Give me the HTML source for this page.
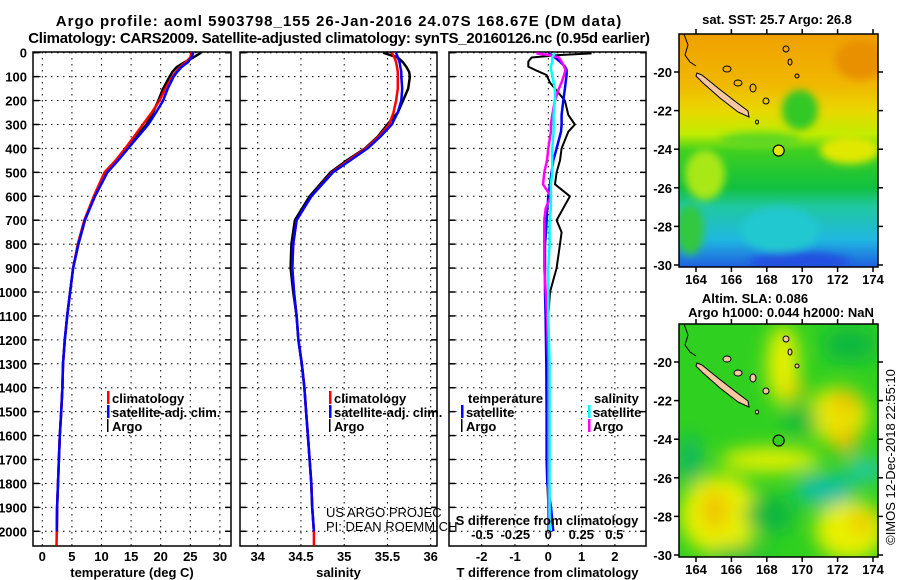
<!DOCTYPE html>
<html><head><meta charset="utf-8">
<style>
html,body{margin:0;padding:0;background:#fff;}
svg{display:block;}
text{font-family:"Liberation Sans",sans-serif;fill:#000;}
.b{font-weight:bold;}
</style></head>
<body>
<svg id="chart" width="900" height="580" viewBox="0 0 900 580" xmlns="http://www.w3.org/2000/svg">
<defs>
<clipPath id="clipTop"><rect x="679" y="34" width="199" height="233"/></clipPath>
<clipPath id="clipBot"><rect x="679" y="324" width="199" height="233"/></clipPath>
<filter id="blur8" x="-50%" y="-50%" width="200%" height="200%"><feGaussianBlur stdDeviation="9"/></filter>
<filter id="blur4" x="-50%" y="-50%" width="200%" height="200%"><feGaussianBlur stdDeviation="4"/></filter>
<linearGradient id="sstGrad" x1="0" y1="0" x2="0" y2="1">
<stop offset="0" stop-color="#f0a000"/>
<stop offset="0.22" stop-color="#f0b800"/>
<stop offset="0.33" stop-color="#e8d800"/>
<stop offset="0.43" stop-color="#c0ec00"/>
<stop offset="0.50" stop-color="#40d020"/>
<stop offset="0.66" stop-color="#10c040"/>
<stop offset="0.74" stop-color="#20c8a0"/>
<stop offset="0.88" stop-color="#20b8e0"/>
<stop offset="1" stop-color="#2060e0"/>
</linearGradient>
</defs>
<text class="b" x="339" y="26" font-size="15" text-anchor="middle" letter-spacing="1">Argo profile: aoml 5903798_155 26-Jan-2016 24.07S 168.67E (DM data)</text>
<text class="b" x="339" y="43" font-size="15" text-anchor="middle" letter-spacing="-0.25">Climatology: CARS2009. Satellite-adjusted climatology: synTS_20160126.nc (0.95d earlier)</text>
<g id="panels"></g>
<g id="maps"></g>
</svg>
<script>
// ---------- data ----------
const depthsProfile = [0,20,40,60,80,100,150,200,250,300,350,400,450,500,600,700,800,900,1000,1100,1200,1300,1400,1500,1600,1700,1800,1900,2000];
const depthsClim = [0,20,40,60,80,100,150,200,250,300,350,400,450,500,600,700,800,900,1000,1100,1200,1300,1400,1500,1600,1700,1800,1900,2000,2060];
const tempArgo = [26.8,25.5,24,22.7,22,21.5,20.4,19.6,18.7,17.6,15.9,14.3,12.6,10.8,8.8,7.2,6.1,5.2,4.7,4.2,3.8,3.5,3.4,3.2,2.95,2.8,2.65,2.5,2.45];
const tempClim = [25.2,25.0,24.2,23.3,22.6,22,20.8,19.8,18.5,17,15.5,14,12.4,10.5,8.7,7.1,6.0,5.2,4.7,4.2,3.8,3.5,3.4,3.2,2.95,2.8,2.65,2.5,2.45,2.4];
const tempSat = [25.5,25.2,24.6,23.5,22.8,22.2,21.2,20.4,19.2,17.9,16.2,14.5,12.8,11.0,8.9,7.2,6.1,5.2,4.7,4.2,3.8,3.5,3.4,3.2,2.95,2.8,2.65,2.5,2.45];
const salArgo = [35.45,35.62,35.68,35.72,35.75,35.76,35.74,35.68,35.62,35.5,35.39,35.24,35.03,34.84,34.6,34.43,34.39,34.38,34.41,34.45,34.47,34.51,34.54,34.56,34.58,34.6,34.62,34.63,34.65];
const salClim = [35.55,35.58,35.6,35.61,35.62,35.62,35.62,35.6,35.57,35.52,35.4,35.25,35.05,34.86,34.62,34.45,34.41,34.4,34.42,34.45,34.47,34.51,34.54,34.56,34.58,34.6,34.62,34.63,34.65,34.65];
const salSat = [35.6,35.62,35.64,35.65,35.66,35.66,35.67,35.66,35.62,35.55,35.42,35.27,35.07,34.87,34.62,34.45,34.41,34.4,34.42,34.45,34.47,34.51,34.54,34.56,34.58,34.6,34.62,34.63,34.65];
const depthsDiff = [3,10,20,37,58,72,93,125,150,200,260,300,330,400,450,500,550,600,650,700,750,800,900,1000,1100,1300,1500,1700,1800,1900,2000];
const tDiffArgo = [1.3,0.3,-0.5,-0.6,-0.6,-0.4,-0.05,0.05,0.2,0.5,0.6,0.8,0.6,0.4,0.35,0.25,0.2,0.65,0.45,0.25,0.4,0.35,0.25,0.05,0.0,-0.05,-0.05,-0.05,-0.03,0.0,0.05];
const tDiffSat = [0,0.1,0.2,0.35,0.5,0.55,0.55,0.52,0.5,0.45,0.4,0.4,0.38,0.25,0.15,0.1,0.05,0,-0.03,-0.05,-0.07,-0.1,-0.1,-0.1,-0.08,-0.06,-0.05,-0.05,-0.03,0.08,0.15];
const sDiffArgo = [-0.09,0.01,0.08,0.1,0.12,0.13,0.12,0.1,0.08,0.05,0.03,0.02,0.02,0.0,-0.01,-0.03,-0.04,0.02,-0.02,-0.03,-0.03,-0.03,-0.03,-0.02,-0.01,0,0,0,0,0,0];
const sDiffSat = [0.05,0.04,0.03,0.03,0.02,0.02,0.03,0.04,0.05,0.05,0.04,0.04,0.04,0.03,0.03,0.03,0.02,0.02,0.02,0.01,0.01,0.01,0.0,0.0,0.0,0.01,0.01,0.01,0.01,0.01,0.01];
const depthTicks = [0,100,200,300,400,500,600,700,800,900,1000,1100,1200,1300,1400,1500,1600,1700,1800,1900,2000];
const tempTicks = [0,5,10,15,20,25,30];
const salTicks = [34,34.5,35,35.5,36];
const tDiffTicks = [-2,-1,0,1,2];
const sDiffTicks = [-0.5,-0.25,0,0.25,0.5];
const sDiffTickLabels = ["-0.5","-0.25","0","0.25","0.5"];
const latTicks = [-20,-22,-24,-26,-28,-30];
const lonTicks = [164,166,168,170,172,174];

// ---------- scales ----------
const NS = "http://www.w3.org/2000/svg";
const yD = d => 52.7 + d * 0.2393;
const xT = t => 42.3 + t * 5.92;
const xS = s => 257.7 + (s - 34) * 86.5;
const xTd = v => 548.3 + v * 33.3;
const xSd = v => 548.3 + v * 132;
const lonX = lon => 696 + (lon - 164) * 17.7;
const latY = lat => 72 + (-20 - lat) * 19.3;

function mk(tag, attrs, parent){
  const e = document.createElementNS(NS, tag);
  for (const k in attrs) e.setAttribute(k, attrs[k]);
  parent.appendChild(e);
  return e;
}
function txt(parent, x, y, s, size, anchor, bold){
  const t = mk('text', {x:x, y:y, 'font-size':size, 'text-anchor':anchor||'start'}, parent);
  if (bold) t.setAttribute('class','b');
  t.textContent = s;
  return t;
}

const panelsG = document.getElementById('panels');
const panels = [
  {name:'temperature', x0:33, x1:231, ticks:tempTicks, sx:xT, title:'temperature (deg C)', fmt:v=>String(v)},
  {name:'salinity', x0:240, x1:437, ticks:salTicks, sx:xS, title:'salinity', fmt:v=>String(v)},
  {name:'difference', x0:449, x1:646, ticks:tDiffTicks, sx:xTd, title:'T difference from climatology', fmt:v=>String(v)}
];
const PY0 = 52, PY1 = 546;

panels.forEach(p => {
  const g = mk('g', {}, panelsG);
  
  
  p.ticks.forEach(v => {
    const gl = mk('line', {x1:p.sx(v), x2:p.sx(v), y1:PY0, y2:PY1, stroke:'#000', 'stroke-width':1, 'stroke-dasharray':'1.5 4.5'}, g);
    
    
    const lb = txt(g, p.sx(v), 561, p.fmt(v), 13, 'middle', true);
    
    
  });
  depthTicks.forEach(d => {
    const gl = mk('line', {x1:p.x0, x2:p.x1, y1:yD(d), y2:yD(d), stroke:'#000', 'stroke-width':1, 'stroke-dasharray':'1.5 4.5'}, g);
    
    
    mk('line', {x1:p.x0, x2:p.x0+6, y1:yD(d), y2:yD(d), stroke:'#000', 'stroke-width':1.5}, g);
    mk('line', {x1:p.x1-6, x2:p.x1, y1:yD(d), y2:yD(d), stroke:'#000', 'stroke-width':1.5}, g);
  });
  const fr = mk('rect', {x:p.x0, y:PY0, width:p.x1-p.x0, height:PY1-PY0, fill:'none', stroke:'#000', 'stroke-width':1.5}, g);
  
  
  const at = txt(g, (p.x0+p.x1)/2, 577, p.title, 13, 'middle', true);
  
  
});
depthTicks.forEach(d => {
  const t = txt(panelsG, 27, yD(d)+5, String(d), 13, 'end', true);
  
  
});

function line(depths, vals, sx, color, name, w){
  const pts = vals.map((v,i) => sx(v).toFixed(1) + ',' + yD(depths[i]).toFixed(1)).join(' ');
  const pl = mk('polyline', {points:pts, fill:'none', stroke:color, 'stroke-width':w||2.5, 'stroke-linejoin':'round'}, panelsG);
  
  
}
line(depthsProfile, tempArgo, xT, '#000', 'temperature-argo-line');
line(depthsClim, tempClim, xT, '#f00', 'temperature-climatology-line');
line(depthsProfile, tempSat, xT, '#00f', 'temperature-satellite-line');
line(depthsProfile, salArgo, xS, '#000', 'salinity-argo-line');
line(depthsClim, salClim, xS, '#f00', 'salinity-climatology-line');
line(depthsProfile, salSat, xS, '#00f', 'salinity-satellite-line');
line(depthsDiff, tDiffArgo, xTd, '#000', 't-diff-argo-line', 2);
line(depthsDiff, tDiffSat, xTd, '#00f', 't-diff-satellite-line', 2.5);
line(depthsDiff, sDiffArgo, xSd, '#f0f', 's-diff-argo-line', 2.5);
line(depthsDiff, sDiffSat, xSd, '#0ff', 's-diff-satellite-line', 2.5);

sDiffTicks.forEach((v,i) => {
  const t = txt(panelsG, xSd(v), 539, sDiffTickLabels[i], 13, 'middle', true);
  
  
});
const sdt = txt(panelsG, 547, 525, 'S difference from climatology', 13, 'middle', true);



function legendEntry(x, y, color, label, name, barW){
  const g = mk('g', {}, panelsG);
  
  
  mk('rect', {x:x, y:y-7, width:barW||2.5, height:13, fill:color}, g);
  txt(g, x+5, y+5, label, 13, 'start', true);
}
legendEntry(107, 398, '#f00', 'climatology', 'legend-entry-climatology');
legendEntry(107, 412, '#00f', 'satellite-adj. clim.', 'legend-entry-satellite');
legendEntry(107, 426, '#000', 'Argo', 'legend-entry-argo', 1.5);
legendEntry(329, 398, '#f00', 'climatology', 'legend-entry-climatology');
legendEntry(329, 412, '#00f', 'satellite-adj. clim.', 'legend-entry-satellite');
legendEntry(329, 426, '#000', 'Argo', 'legend-entry-argo', 1.5);
const lt1 = txt(panelsG, 468, 403, 'temperature', 13, 'start', true);


const lt2 = txt(panelsG, 594, 403, 'salinity', 13, 'start', true);


legendEntry(461, 412, '#00f', 'satellite', 'legend-entry-t-satellite');
legendEntry(461, 426, '#000', 'Argo', 'legend-entry-t-argo', 1.5);
legendEntry(588, 412, '#0ff', 'satellite', 'legend-entry-s-satellite');
legendEntry(588, 426, '#f0f', 'Argo', 'legend-entry-s-argo');

const c1 = txt(panelsG, 326, 517, 'US ARGO PROJEC', 13, 'start', false);


const c2 = txt(panelsG, 326, 531, 'PI: DEAN ROEMMICH', 13, 'start', false);



// ---------- maps ----------
const mapsG = document.getElementById('maps');
function drawMap(dy, kind){
  const g = mk('g', {}, mapsG);
  
  
  const inner = mk('g', {'clip-path': dy ? 'url(#clipBot)' : 'url(#clipTop)'}, g);
  const blobs = mk('g', {transform:'translate(0,'+dy+')'}, inner);
  if (kind === 'sst'){
    mk('rect', {x:679, y:34, width:199, height:233, fill:'url(#sstGrad)'}, blobs);
    const bg = mk('g', {filter:'url(#blur4)'}, blobs);
    mk('ellipse', {cx:705, cy:175, rx:20, ry:25, fill:'#a8e818'}, bg);
    mk('ellipse', {cx:850, cy:150, rx:30, ry:14, fill:'#e0e800'}, bg);
    mk('ellipse', {cx:800, cy:110, rx:18, ry:20, fill:'#30c828'}, bg);
    mk('ellipse', {cx:760, cy:140, rx:40, ry:8, fill:'#60d820'}, bg);
    mk('ellipse', {cx:860, cy:60, rx:25, ry:20, fill:'#e89000'}, bg);
    mk('ellipse', {cx:780, cy:230, rx:40, ry:22, fill:'#20c8d0'}, bg);
    mk('ellipse', {cx:690, cy:230, rx:14, ry:25, fill:'#30c840'}, bg);
    mk('ellipse', {cx:800, cy:262, rx:50, ry:10, fill:'#2050e0'}, bg);
  } else {
    mk('rect', {x:679, y:34, width:199, height:233, fill:'#30d020'}, blobs);
    const bg = mk('g', {filter:'url(#blur8)'}, blobs);
    mk('ellipse', {cx:783, cy:75, rx:16, ry:40, fill:'#e8f000'}, bg);
    mk('ellipse', {cx:838, cy:125, rx:30, ry:28, fill:'#e8e800'}, bg);
    mk('ellipse', {cx:845, cy:112, rx:12, ry:10, fill:'#f0b800'}, bg);
    mk('ellipse', {cx:845, cy:150, rx:12, ry:14, fill:'#f0c000'}, bg);
    mk('ellipse', {cx:795, cy:100, rx:10, ry:8, fill:'#f0c800'}, bg);
    mk('ellipse', {cx:770, cy:170, rx:50, ry:12, fill:'#e8f000'}, bg);
    mk('ellipse', {cx:720, cy:225, rx:40, ry:40, fill:'#e8f000'}, bg);
    mk('ellipse', {cx:715, cy:220, rx:12, ry:20, fill:'#f0c000'}, bg);
    mk('ellipse', {cx:850, cy:240, rx:35, ry:30, fill:'#e8f000'}, bg);
    mk('ellipse', {cx:862, cy:232, rx:10, ry:12, fill:'#f0c000'}, bg);
    mk('ellipse', {cx:770, cy:225, rx:25, ry:20, fill:'#10b840'}, bg);
    mk('ellipse', {cx:825, cy:200, rx:30, ry:16, fill:'#10c0a0'}, bg);
    mk('ellipse', {cx:865, cy:180, rx:20, ry:12, fill:'#20c8a0'}, bg);
    mk('ellipse', {cx:690, cy:170, rx:12, ry:25, fill:'#10b860'}, bg);
    mk('ellipse', {cx:800, cy:130, rx:18, ry:12, fill:'#10b840'}, bg);
    mk('ellipse', {cx:850, cy:55, rx:28, ry:18, fill:'#10b840'}, bg);
    mk('ellipse', {cx:740, cy:265, rx:30, ry:8, fill:'#10b840'}, bg);
  }
  const isl = mk('g', {transform:'translate(0,'+dy+')'}, inner);
  const nc = mk('polygon', {points:'697,73 702,75 718,88 736,102 748,111 749,117 738,112 720,98 703,83 696,76', fill:'#f8c8a0', stroke:'#000', 'stroke-width':1}, isl);
  
  
  [[727,69,4,3],[738,83,4,3],[753,88,3,4],[766,101,3,3],[786,49,3,3],[790,62,2,3],[797,76,2,2],[757,122,1.5,2]].forEach(s => {
    mk('ellipse', {cx:s[0], cy:s[1], rx:s[2], ry:s[3], fill: kind==='sst' ? 'none' : '#f8c8a0', stroke:'#000', 'stroke-width':1}, isl);
  });
  mk('polyline', {points:'684,34 688,45 685,55 690,62 696,66', fill:'none', stroke:'#000', 'stroke-width':1}, isl);
  const fl = mk('circle', {cx:lonX(168.67), cy:latY(-24.07), r:5.5, fill: kind==='sst' ? '#e0e800' : '#30d020', stroke:'#000', 'stroke-width':1.2}, isl);
  
  
  mk('rect', {x:679, y:34+dy, width:199, height:233, fill:'none', stroke:'#000', 'stroke-width':1.5}, g);
  lonTicks.forEach(lon => {
    const x = lonX(lon);
    mk('line', {x1:x, x2:x, y1:29+dy, y2:34+dy, stroke:'#000', 'stroke-width':1.5}, g);
    mk('line', {x1:x, x2:x, y1:267+dy, y2:272+dy, stroke:'#000', 'stroke-width':1.5}, g);
    const t = txt(g, x, 284+dy, String(lon), 13, 'middle', true);
    
    
  });
  latTicks.forEach(lat => {
    const y = latY(lat)+dy;
    mk('line', {x1:674, x2:679, y1:y, y2:y, stroke:'#000', 'stroke-width':1.5}, g);
    mk('line', {x1:878, x2:883, y1:y, y2:y, stroke:'#000', 'stroke-width':1.5}, g);
    const t = txt(g, 672, y+5, String(lat), 13, 'end', true);
    
    
  });
}
drawMap(0, 'sst');
drawMap(290, 'sla');
const m1 = txt(mapsG, 777, 24, 'sat. SST: 25.7 Argo: 26.8', 13, 'middle', true);


const m2 = txt(mapsG, 755, 303, 'Altim. SLA: 0.086', 13, 'middle', true);


const m3 = txt(mapsG, 781, 317, 'Argo h1000: 0.044 h2000: NaN', 13, 'middle', true);


const cr = txt(mapsG, 0, 0, '©IMOS 12-Dec-2018 22:55:10', 13, 'middle', false);
cr.setAttribute('transform', 'translate(895,457) rotate(-90)');


</script>
</body></html>
